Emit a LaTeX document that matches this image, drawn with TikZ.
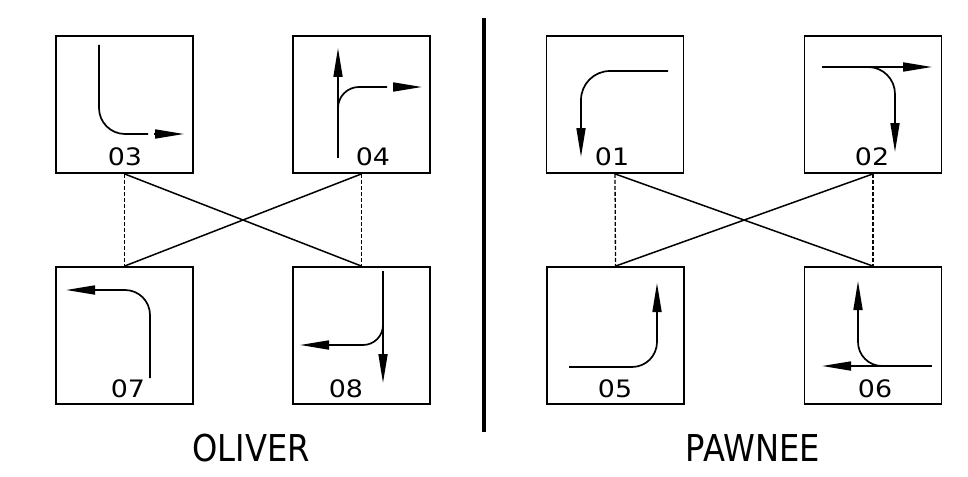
\documentclass[tikz,border=0pt]{standalone}
\usepackage{fontspec}
\setmainfont{DejaVu Sans}
\newfontfamily\titlefont[FakeStretch=0.87]{DejaVu Sans}
\newfontfamily\numfont[FakeStretch=1.12]{DejaVu Sans}
\usetikzlibrary{arrows.meta}
\begin{document}
\begin{tikzpicture}[x=1pt,y=-1pt,
  sig/.style={draw, line width=1.8pt, minimum size=137pt, inner sep=0pt},
  num/.style={inner sep=0pt, font=\fontsize{24}{25}\selectfont\numfont},
  ttl/.style={inner sep=0pt, font=\fontsize{37}{38}\selectfont\titlefont},
  arr/.style={line width=1.7pt, -{Triangle[length=29pt,width=9pt]}},
  lin/.style={line width=1.7pt},
  vlink/.style={line width=1.3pt, dash pattern=on 4pt off 2pt},
  dlink/.style={line width=1.5pt}]
\useasboundingbox (0,0) rectangle (968,476);
% boxes
\node[sig] (b03) at (124.5,104.5) {};
\node[sig] (b04) at (361.5,104.5) {};
\node[sig] (b07) at (124.5,335.5) {};
\node[sig] (b08) at (361.5,335.5) {};
\node[sig] (b01) at (615,104.5) {};
\node[sig] (b02) at (873,104.5) {};
\node[sig] (b05) at (615.5,335.5) {};
\node[sig] (b06) at (873,335.5) {};
% numbers
\node[num] (n03) at (125,157) {03};
\node[num] (n04) at (373,157) {04};
\node[num] (n07) at (128,389) {07};
\node[num] (n08) at (346,389) {08};
\node[num] (n01) at (612,157) {01};
\node[num] (n02) at (872,157) {02};
\node[num] (n05) at (615,389) {05};
\node[num] (n06) at (875,389) {06};
% titles
\node[ttl] (oliver) at (251,448) {OLIVER};
\node[ttl] (pawnee) at (753,448) {PAWNEE};
% divider
\coordinate (dtop) at (484,18);
\coordinate (dbot) at (484,432);
\draw[line width=4pt] (dtop) -- (dbot);
% links
\draw[vlink] (b03.south) -- (b07.north);
\draw[vlink] (b04.south) -- (b08.north);
\draw[dlink] (b03.south) -- (b08.north);
\draw[dlink] (b04.south) -- (b07.north);
\draw[vlink] (b01.south) -- (b05.north);
\draw[vlink] (b02.south) -- (b06.north);
\draw[dlink] (b01.south) -- (b06.north);
\draw[dlink] (b02.south) -- (b05.north);
% pictograms
% 03
\draw[lin, rounded corners=26pt] (99,45) |- (148,134);
\draw[arr] (154,134) -- (184,134);
% 04
\draw[arr] (338,158) -- (338,48);
\draw[lin, rounded corners=21pt] (338,108) |- (387,87);
\draw[arr] (393,87) -- (422,87);
% 07
\draw[arr, rounded corners=25pt] (150,378) |- (66,290);
% 08
\draw[arr] (383,271) -- (383,383);
\draw[arr, rounded corners=20pt] (383,325) |- (300,345);
% 01
\draw[lin, rounded corners=29pt] (668,71) -| (581,127);
\draw[arr] (581,126) -- (581,157);
% 02
\draw[arr] (822,67) -- (932,67);
\draw[arr, rounded corners=27pt] (868,67) -| (895,152);
% 05
\draw[arr, rounded corners=25pt] (569,367) -| (657,283);
% 06
\draw[arr] (932,366) -- (822,366);
\draw[arr, rounded corners=24pt] (882,366) -| (858,281);
\end{tikzpicture}
\end{document}
